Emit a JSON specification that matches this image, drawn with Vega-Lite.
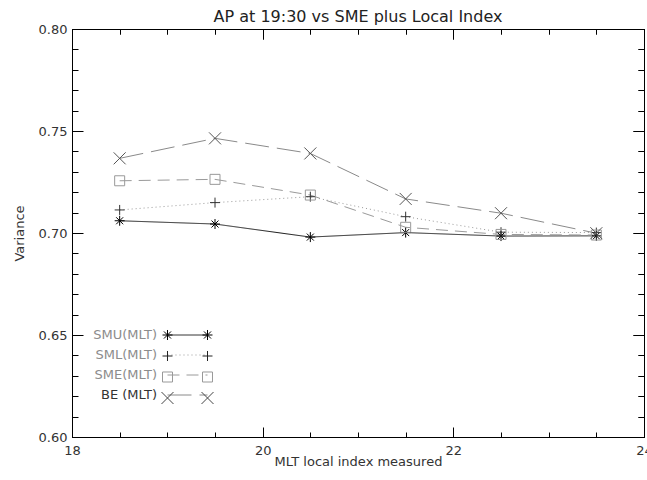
{
  "$schema": "https://vega.github.io/schema/vega-lite/v6.json",
  "width": 572,
  "height": 408,
  "autosize": {"type": "none"},
  "padding": {"left": 72, "top": 29, "right": 3, "bottom": 43},
  "background": "white",
  "title": {"text": "AP at 19:30 vs SME plus Local Index", "font": "DejaVu Sans", "fontSize": 16, "fontWeight": "normal", "color": "#222", "anchor": "middle", "offset": 7, "dy": 9},
  "data": {"values": [
    {"series": "SMU(MLT)", "mlt": 18.5, "variance": 0.7060},
    {"series": "SMU(MLT)", "mlt": 19.5, "variance": 0.7044},
    {"series": "SMU(MLT)", "mlt": 20.5, "variance": 0.6980},
    {"series": "SMU(MLT)", "mlt": 21.5, "variance": 0.7002},
    {"series": "SMU(MLT)", "mlt": 22.5, "variance": 0.6985},
    {"series": "SMU(MLT)", "mlt": 23.5, "variance": 0.6986},
    {"series": "SML(MLT)", "mlt": 18.5, "variance": 0.7113},
    {"series": "SML(MLT)", "mlt": 19.5, "variance": 0.7149},
    {"series": "SML(MLT)", "mlt": 20.5, "variance": 0.7178},
    {"series": "SML(MLT)", "mlt": 21.5, "variance": 0.7080},
    {"series": "SML(MLT)", "mlt": 22.5, "variance": 0.7004},
    {"series": "SML(MLT)", "mlt": 23.5, "variance": 0.7002},
    {"series": "SME(MLT)", "mlt": 18.5, "variance": 0.7256},
    {"series": "SME(MLT)", "mlt": 19.5, "variance": 0.7263},
    {"series": "SME(MLT)", "mlt": 20.5, "variance": 0.7186},
    {"series": "SME(MLT)", "mlt": 21.5, "variance": 0.7028},
    {"series": "SME(MLT)", "mlt": 22.5, "variance": 0.6993},
    {"series": "SME(MLT)", "mlt": 23.5, "variance": 0.6990},
    {"series": "BE (MLT)", "mlt": 18.5, "variance": 0.7366},
    {"series": "BE (MLT)", "mlt": 19.5, "variance": 0.7464},
    {"series": "BE (MLT)", "mlt": 20.5, "variance": 0.7390},
    {"series": "BE (MLT)", "mlt": 21.5, "variance": 0.7167},
    {"series": "BE (MLT)", "mlt": 22.5, "variance": 0.7097},
    {"series": "BE (MLT)", "mlt": 23.5, "variance": 0.6999}
  ]},
  "layer": [
    {
      "mark": {"type": "line", "strokeWidth": 1},
      "encoding": {
        "x": {"field": "mlt", "type": "quantitative",
          "scale": {"domain": [18, 24], "nice": false, "zero": false},
          "axis": {"orient": "bottom", "title": "MLT local index measured", "zindex": 1,
            "values": [18, 20, 22, 24], "format": "d", "ticks": false,
            "labelFlush": false, "labelOverlap": false, "labelPadding": 7, "titlePadding": -2}},
        "y": {"field": "variance", "type": "quantitative",
          "scale": {"domain": [0.6, 0.8], "nice": false, "zero": false},
          "axis": {"orient": "left", "title": "Variance", "zindex": 1,
            "values": [0.60, 0.65, 0.70, 0.75, 0.80], "format": ".2f", "ticks": false,
            "labelFlush": false, "labelOverlap": false, "labelPadding": 5, "titlePadding": 12}},
        "stroke": {"field": "series", "type": "nominal",
          "scale": {"domain": ["SMU(MLT)", "SML(MLT)", "SME(MLT)", "BE (MLT)"], "range": ["#1a1a1a", "#9a9a9a", "#9a9a9a", "#8a8a8a"]},
          "legend": {"orient": "none", "legendX": 107.5, "legendY": 298, "title": null,
            "symbolType": "M-2.667,0H2.667", "symbolSize": 225, "symbolStrokeWidth": 1,
            "rowPadding": 5, "padding": 0,
            "labelAlign": "right", "labelOffset": -38.5, "labelFont": "DejaVu Sans", "labelFontSize": 13, "labelLimit": 0,
            "labelColor": {"expr": "datum.value === 'BE (MLT)' ? '#333333' : '#8c8c8c'"}}},
        "strokeDash": {"field": "series", "type": "nominal",
          "scale": {"domain": ["SMU(MLT)", "SML(MLT)", "SME(MLT)", "BE (MLT)"], "range": [[1, 0], [1, 3], [12, 7], [24, 8]]},
          "legend": {"orient": "none", "legendX": 107.5, "legendY": 298, "title": null,
            "symbolType": "M-2.667,0H2.667", "symbolSize": 225, "symbolStrokeWidth": 1,
            "rowPadding": 5, "padding": 0,
            "labelAlign": "right", "labelOffset": -38.5, "labelFont": "DejaVu Sans", "labelFontSize": 13, "labelLimit": 0,
            "labelColor": {"expr": "datum.value === 'BE (MLT)' ? '#333333' : '#8c8c8c'"}}}
      }
    },
    {
      "mark": {"type": "point", "filled": false, "strokeWidth": 1, "size": 100, "opacity": 1},
      "encoding": {
        "x": {"field": "mlt", "type": "quantitative",
          "axis": {"orient": "top", "title": null, "labels": false, "domain": false, "zindex": 1, "values": [18, 20, 22, 24], "tickSize": 10, "offset": -10}},
        "y": {"field": "variance", "type": "quantitative",
          "axis": {"orient": "right", "title": null, "labels": false, "domain": false, "zindex": 1, "values": [0.60, 0.65, 0.70, 0.75, 0.80], "tickSize": 11, "offset": -11}},
        "color": {"field": "series", "type": "nominal",
          "scale": {"domain": ["SMU(MLT)", "SML(MLT)", "SME(MLT)", "BE (MLT)"], "range": ["#000000", "#333333", "#999999", "#555555"]},
          "legend": null},
        "shape": {"field": "series", "type": "nominal",
          "scale": {"domain": ["SMU(MLT)", "SML(MLT)", "SME(MLT)", "BE (MLT)"], "range": ["M-1,0H1M0,-1V1M-0.7,-0.7L0.7,0.7M-0.7,0.7L0.7,-0.7", "M-1,0H1M0,-1V1", "M-1,-1H1V1H-1Z", "M-1.2,-1.2L1.2,1.2M-1.2,1.2L1.2,-1.2"]},
          "legend": null}
      }
    },
    {
      "mark": {"type": "point", "filled": false, "strokeWidth": 1, "size": 100, "opacity": 0},
      "encoding": {
        "x": {"field": "mlt", "type": "quantitative",
          "axis": {"orient": "bottom", "title": null, "labels": false, "domain": false, "ticks": false,
            "grid": true, "gridColor": "#000000", "gridOpacity": 1, "gridWidth": 1, "gridDash": [10, 388, 10, 2000],
            "values": [18, 20, 22, 24]}},
        "y": {"field": "variance", "type": "quantitative",
          "axis": {"orient": "left", "title": null, "labels": false, "domain": false, "ticks": false,
            "grid": true, "gridColor": "#000000", "gridOpacity": 1, "gridWidth": 1, "gridDash": [11, 550, 11, 2000],
            "values": [0.60, 0.65, 0.70, 0.75, 0.80]}},
        "color": {"field": "series", "type": "nominal",
          "scale": {"domain": ["SMU(MLT)", "SML(MLT)", "SME(MLT)", "BE (MLT)", "~"], "range": ["#000000", "#222222", "#999999", "#444444", "#000000"]},
          "legend": {"orient": "none", "legendX": 107.5, "legendY": 298, "title": null,
            "values": ["SMU(MLT)", "SML(MLT)", "SME(MLT)", "BE (MLT)"],
            "symbolSize": 225, "symbolStrokeWidth": 1, "symbolOpacity": 1,
            "rowPadding": 5, "padding": 0,
            "labelAlign": "right", "labelOffset": -38.5, "labelFont": "DejaVu Sans", "labelFontSize": 13, "labelLimit": 0, "labelOpacity": 0}},
        "shape": {"field": "series", "type": "nominal",
          "scale": {"domain": ["SMU(MLT)", "SML(MLT)", "SME(MLT)", "BE (MLT)", "~"],
            "range": ["M-3.333,0H-2M-2.667,-0.667V0.667M-3.138,-0.471L-2.196,0.471M-3.138,0.471L-2.196,-0.471M2,0H3.333M2.667,-0.667V0.667M2.196,-0.471L3.138,0.471M2.196,0.471L3.138,-0.471",
              "M-3.333,0H-2M-2.667,-0.667V0.667M2,0H3.333M2.667,-0.667V0.667",
              "M-3.333,-0.667H-2V0.667H-3.333ZM2,-0.667H3.333V0.667H2Z",
              "M-3.467,-0.8L-1.867,0.8M-3.467,0.8L-1.867,-0.8M1.867,-0.8L3.467,0.8M1.867,0.8L3.467,-0.8",
              "M0,0"]},
          "legend": {"orient": "none", "legendX": 107.5, "legendY": 298, "title": null,
            "values": ["SMU(MLT)", "SML(MLT)", "SME(MLT)", "BE (MLT)"],
            "symbolSize": 225, "symbolStrokeWidth": 1, "symbolOpacity": 1,
            "rowPadding": 5, "padding": 0,
            "labelAlign": "right", "labelOffset": -38.5, "labelFont": "DejaVu Sans", "labelFontSize": 13, "labelLimit": 0, "labelOpacity": 0}}
      }
    },
    {
      "mark": {"type": "point", "filled": false, "size": 100, "opacity": 0},
      "encoding": {
        "x": {"field": "mlt", "type": "quantitative",
          "axis": {"orient": "top", "title": null, "labels": false, "domain": false, "zindex": 1,
            "values": [18, 18.5, 19, 19.5, 20, 20.5, 21, 21.5, 22, 22.5, 23, 23.5, 24], "tickSize": 5, "offset": -5}},
        "y": {"field": "variance", "type": "quantitative",
          "axis": {"orient": "right", "title": null, "labels": false, "domain": false, "zindex": 1,
            "values": [0.60, 0.61, 0.62, 0.63, 0.64, 0.65, 0.66, 0.67, 0.68, 0.69, 0.70, 0.71, 0.72, 0.73, 0.74, 0.75, 0.76, 0.77, 0.78, 0.79, 0.80], "tickSize": 6, "offset": -6}}
      }
    },
    {
      "mark": {"type": "point", "filled": false, "size": 100, "opacity": 0},
      "encoding": {
        "x": {"field": "mlt", "type": "quantitative",
          "axis": {"orient": "bottom", "title": null, "labels": false, "domain": false, "ticks": false,
            "grid": true, "gridColor": "#000000", "gridOpacity": 1, "gridWidth": 1, "gridDash": [5, 398, 5, 2000],
            "values": [18, 18.5, 19, 19.5, 20, 20.5, 21, 21.5, 22, 22.5, 23, 23.5, 24]}},
        "y": {"field": "variance", "type": "quantitative",
          "axis": {"orient": "left", "title": null, "labels": false, "domain": false, "ticks": false,
            "grid": true, "gridColor": "#000000", "gridOpacity": 1, "gridWidth": 1, "gridDash": [6, 560, 6, 2000],
            "values": [0.60, 0.61, 0.62, 0.63, 0.64, 0.65, 0.66, 0.67, 0.68, 0.69, 0.70, 0.71, 0.72, 0.73, 0.74, 0.75, 0.76, 0.77, 0.78, 0.79, 0.80]}}
      }
    }
  ],
  "resolve": {"axis": {"x": "independent", "y": "independent"}, "scale": {"shape": "independent", "color": "independent"}},
  "config": {
    "view": {"stroke": "#000000", "strokeWidth": 1},
    "axis": {"grid": false, "domainColor": "#000000", "domainWidth": 1, "tickColor": "#000000", "tickWidth": 1,
      "labelColor": "#333333", "labelFont": "DejaVu Sans", "labelFontSize": 13,
      "titleColor": "#333333", "titleFont": "DejaVu Sans", "titleFontSize": 13, "titleFontWeight": "normal"}
  }
}
